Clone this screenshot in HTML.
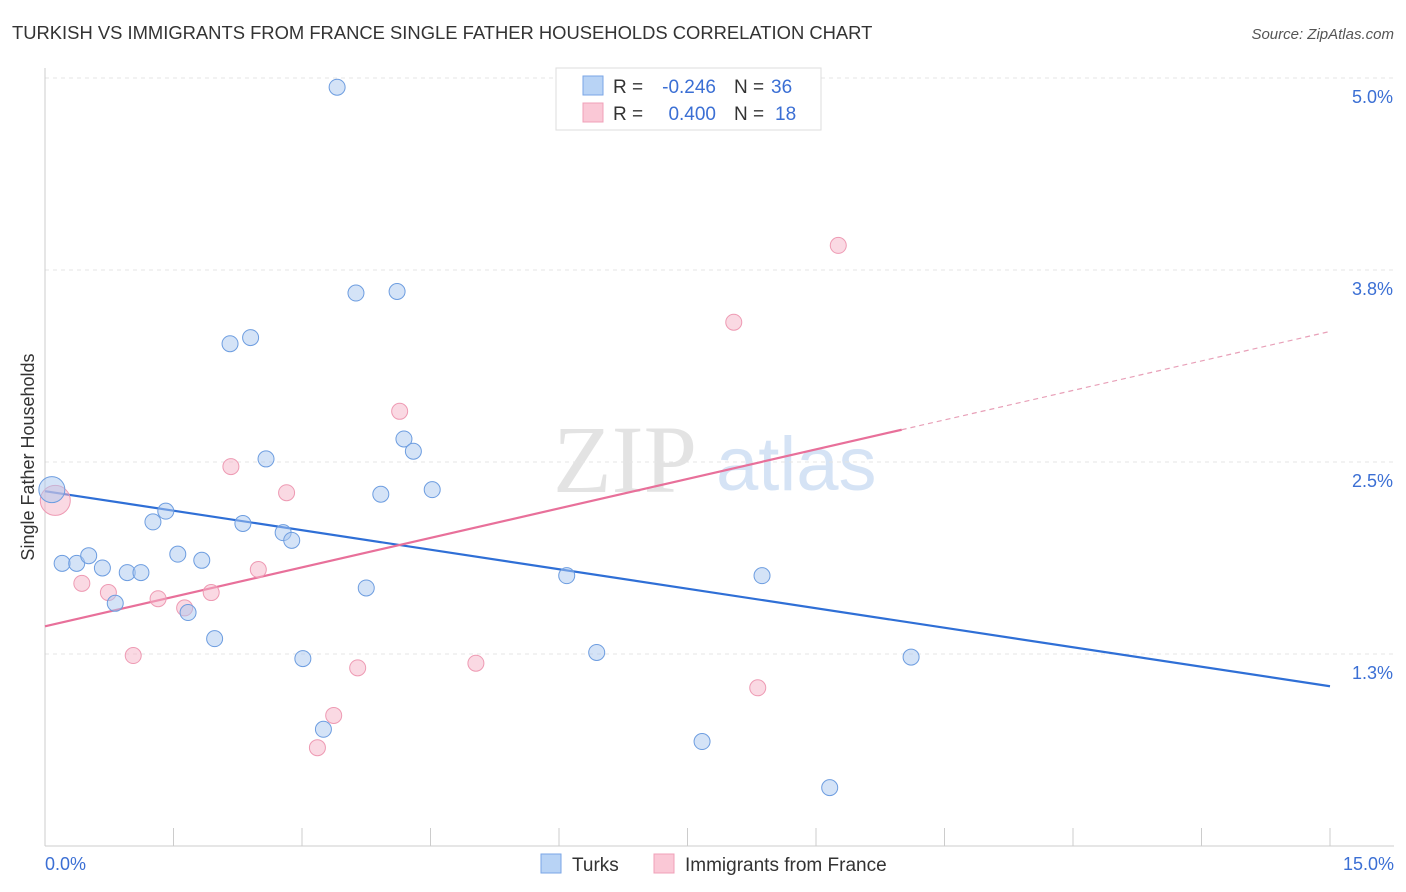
<!DOCTYPE html>
<html><head><meta charset="utf-8">
<style>
body{margin:0;background:#fff;font-family:"Liberation Sans",sans-serif;}
svg{display:block}
</style></head>
<body>
<svg id="chart" width="1406" height="892" viewBox="0 0 1406 892">
<text x="12" y="39" font-size="18.4" fill="#333">TURKISH VS IMMIGRANTS FROM FRANCE SINGLE FATHER HOUSEHOLDS CORRELATION CHART</text>
<text x="1394" y="39" font-size="15" fill="#555" font-style="italic" text-anchor="end">Source: ZipAtlas.com</text>
<g>
<text x="553" y="492" font-size="96" fill="#e3e3e3" font-family="Liberation Serif,serif">ZIP</text>
<text x="716" y="490" font-size="76" fill="#d5e3f5">atlas</text>
</g>
<g id="grid"></g>
<g id="axes"></g>
<g id="lines"></g>
<g id="points"></g>
<text transform="translate(34,457) rotate(-90)" font-size="18" fill="#333" text-anchor="middle">Single Father Households</text>
<g>
<rect x="556" y="68" width="265" height="62" fill="#fff" stroke="#ddd"/>
<rect x="583" y="76" width="20" height="19" fill="#b8d3f5" stroke="#7aa6e6"/>
<rect x="583" y="103" width="20" height="19" fill="#fac8d6" stroke="#f0a0b8"/>
<text x="613" y="93" font-size="19" fill="#333">R =</text>
<text x="716" y="93" font-size="19" fill="#3b6fd4" text-anchor="end">-0.246</text>
<text x="734" y="93" font-size="19" fill="#333">N =</text>
<text x="771" y="93" font-size="19" fill="#3b6fd4">36</text>
<text x="613" y="120" font-size="19" fill="#333">R =</text>
<text x="716" y="120" font-size="19" fill="#3b6fd4" text-anchor="end">0.400</text>
<text x="734" y="120" font-size="19" fill="#333">N =</text>
<text x="775" y="120" font-size="19" fill="#3b6fd4">18</text>
</g>
<g>
<rect x="541" y="854" width="20" height="19" fill="#b8d3f5" stroke="#7aa6e6"/>
<text x="572" y="871" font-size="19" fill="#333">Turks</text>
<rect x="654" y="854" width="20" height="19" fill="#fac8d6" stroke="#f0a0b8"/>
<text x="685" y="871" font-size="19" fill="#333">Immigrants from France</text>
</g>
</svg>
<script>
const turksX=[3.41,3.63,4.11,2.16,2.40,2.58,4.19,4.30,3.92,4.52,0.08,1.41,1.26,2.31,2.78,2.88,0.20,0.37,0.51,0.67,0.96,1.12,1.55,1.83,0.82,1.67,1.98,3.01,3.75,6.09,8.37,6.44,10.11,3.25,7.67,9.16];
const turksY=[4.94,3.60,3.61,3.27,3.31,2.52,2.65,2.57,2.29,2.32,2.32,2.18,2.11,2.10,2.04,1.99,1.84,1.84,1.89,1.81,1.78,1.78,1.90,1.86,1.58,1.52,1.35,1.22,1.68,1.76,1.76,1.26,1.23,0.76,0.68,0.38];
const franceX=[0.12,9.26,8.04,4.14,2.17,2.82,0.43,0.74,1.32,1.63,1.94,2.49,1.03,3.65,5.03,8.32,3.37,3.18];
const franceY=[2.25,3.91,3.41,2.83,2.47,2.30,1.71,1.65,1.61,1.55,1.65,1.80,1.24,1.16,1.19,1.03,0.85,0.64];
const yTicks=[1.25,2.5,3.75,5.0];
const yTickLabels=["1.3%","2.5%","3.8%","5.0%"];
const xTicks=[0,1.5,3,4.5,6,7.5,9,10.5,12,13.5,15];
const xTickLabels=["0.0%","15.0%"];
const turksTrend=[2.31,1.04];
const franceTrend=[1.43,3.35];
const franceSolidEnd=10;

const NS="http://www.w3.org/2000/svg";
const X=v=>45+v/15*1285;
const Y=v=>654-(v-1.25)*153.6;
function mk(tag,attrs,parent){const e=document.createElementNS(NS,tag);for(const k in attrs)e.setAttribute(k,attrs[k]);document.getElementById(parent).appendChild(e);return e;}

yTicks.forEach((t,i)=>{
  const g=mk('line',{x1:45,x2:1394,y1:Y(t),y2:Y(t),stroke:'#e4e4e4','stroke-dasharray':'4,4'},'grid');
  
  
  const l=mk('text',{x:1393,y:Y(t)+25,'font-size':18,fill:'#3b6fd4','text-anchor':'end'},'axes');
  l.textContent=yTickLabels[i];
  
  
});
const ax=mk('line',{x1:45,x2:1394,y1:Y(0),y2:Y(0),stroke:'#ccc'},'axes');


const ay=mk('line',{x1:45,x2:45,y1:68,y2:Y(0),stroke:'#ccc'},'axes');


xTicks.forEach(t=>{
  const e=mk('line',{x1:X(t),x2:X(t),y1:Y(0),y2:Y(0)-18,stroke:'#ccc'},'axes');
  
  
});
[[0,'start',45],[15,'end',1394]].forEach((a,i)=>{
  const e=mk('text',{x:a[2],y:870,'font-size':18,fill:'#3b6fd4','text-anchor':a[1]},'axes');
  e.textContent=xTickLabels[i];
  
  
});

const bl=mk('line',{x1:X(0),y1:Y(turksTrend[0]),x2:X(15),y2:Y(turksTrend[1]),stroke:'#2f6fd6','stroke-width':2.2},'lines');


const fy=v=>franceTrend[0]+(franceTrend[1]-franceTrend[0])*v/15;
const pl=mk('line',{x1:X(0),y1:Y(fy(0)),x2:X(franceSolidEnd),y2:Y(fy(franceSolidEnd)),stroke:'#e8709a','stroke-width':2.2},'lines');


const pd=mk('line',{x1:X(franceSolidEnd),y1:Y(fy(franceSolidEnd)),x2:X(15),y2:Y(fy(15)),stroke:'#e8a0b8','stroke-width':1.2,'stroke-dasharray':'5,4'},'lines');



franceX.forEach((x,i)=>{
  const c=mk('circle',{cx:X(x),cy:Y(franceY[i]),r:i===0?15:8,fill:'rgba(246,180,200,0.5)',stroke:'#ee9ab3','stroke-width':1},'points');
  
  
});
turksX.forEach((x,i)=>{
  const c=mk('circle',{cx:X(x),cy:Y(turksY[i]),r:i===10?13:8,fill:'rgba(170,200,240,0.5)',stroke:'#6d9de0','stroke-width':1},'points');
  
  
});
</script>
</body></html>
